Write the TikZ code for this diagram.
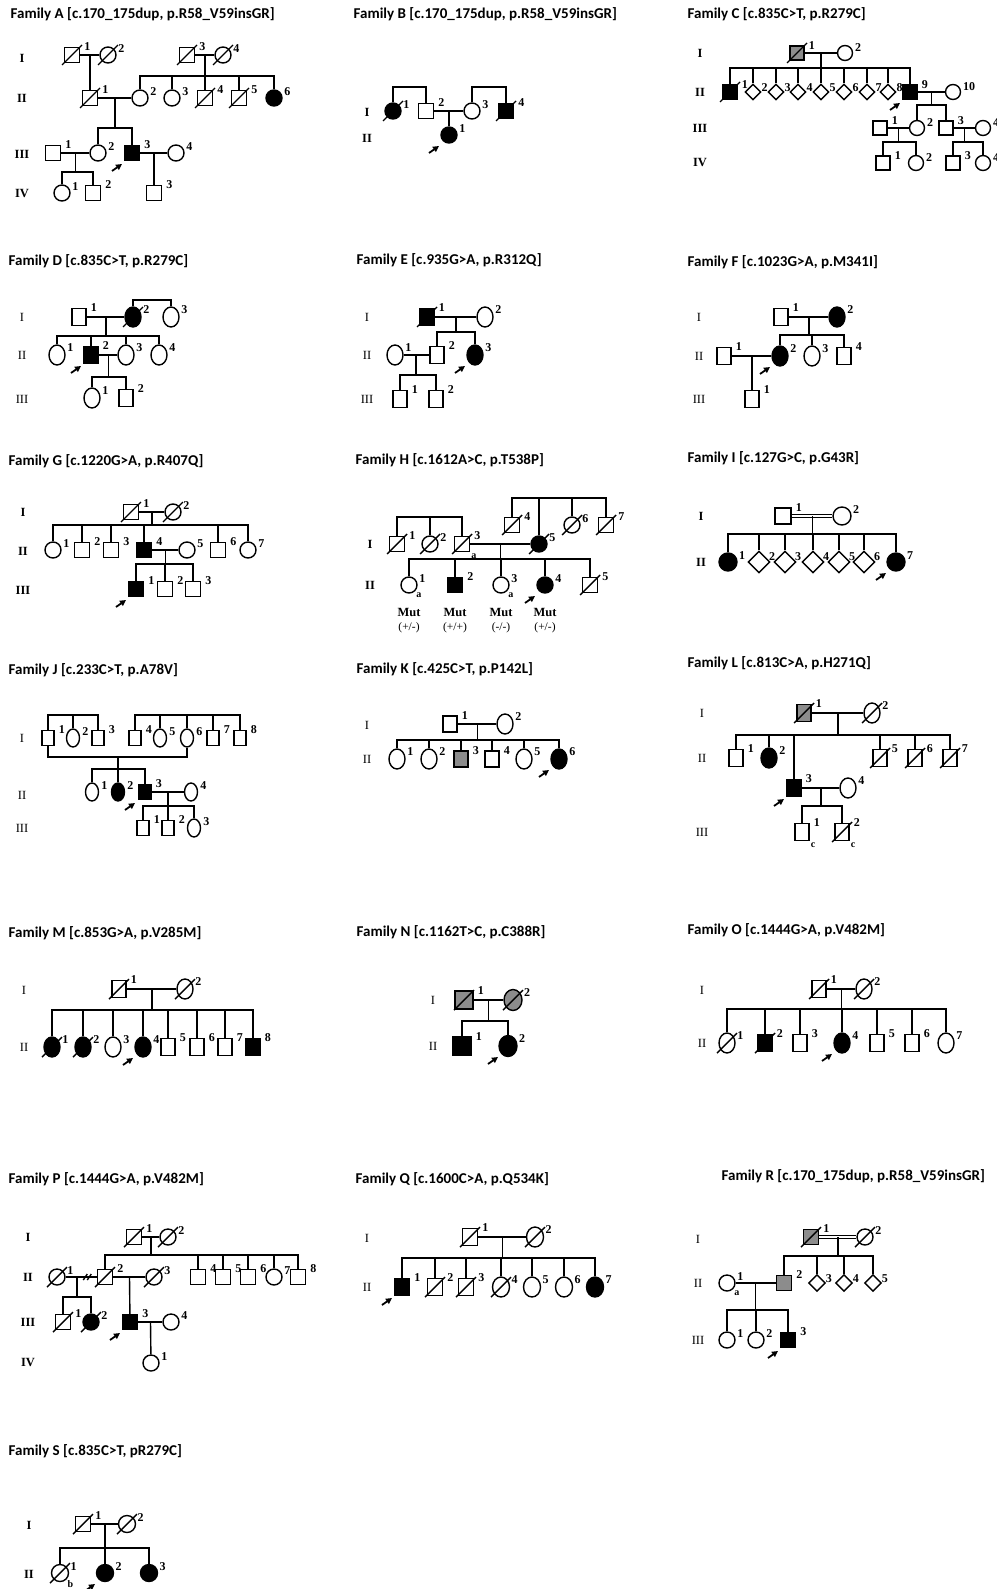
\documentclass[tikz,border=0pt]{standalone}
\usepackage{fontspec}
\setmainfont{Liberation Serif}
\newfontfamily\calfont{Carlito}
\usetikzlibrary{arrows.meta,positioning,calc,shapes.geometric}
\definecolor{carrier}{HTML}{8C8C8C}

\tikzset{
  ind/.style={draw, inner sep=0pt},
  male/.style={ind, rectangle, minimum width=15, minimum height=15},
  female/.style={ind, ellipse, minimum width=16, minimum height=16},
  unk/.style={ind, diamond, aspect=1, minimum width=16, minimum height=16},
  aff/.style={fill=black},
  car/.style={fill=carrier},
  dec/.style={append after command={(\tikzlastnode.center) ++(-10,10) edge ++(20,-20)}},
  pb/.style={append after command={(\tikzlastnode.center) ++(-20,18) edge[-{Triangle[length=6pt,width=6pt]}, line width=1.8pt] ++(10,-7)}},
  nr/.style={label={[num]north east:#1}},
  sub/.style={label={[subl]south east:#1}},
  num/.style={font=\bfseries\fontsize{12}{12}\selectfont, inner sep=0.5pt, anchor=west, xshift=3pt},
  subl/.style={font=\bfseries\fontsize{10}{10}\selectfont, inner sep=0.5pt, anchor=north west},
  ttl/.style={font=\calfont\bfseries\fontsize{15}{17}\selectfont, anchor=west, inner sep=0pt},
  gen/.style={font=\bfseries\fontsize{12.5}{12.5}\selectfont, inner sep=0pt},
  genr/.style={font=\fontsize{12.5}{12.5}\selectfont, inner sep=0pt},
  mutl/.style={font=\bfseries\fontsize{12.5}{12.5}\selectfont, inner sep=0pt},
  gtl/.style={font=\fontsize{11.5}{11.5}\selectfont, inner sep=0pt},
  symsize/.style n args={4}{male/.append style={minimum width=#1, minimum height=#2},
    female/.append style={minimum width=#3, minimum height=#4}},
  unksize/.style={unk/.append style={minimum width=#1, minimum height=#1}},
}

\begin{document}
\begin{tikzpicture}[x=1pt, y=-1pt, line width=1.4pt]
  \useasboundingbox (0,0) rectangle (996,1589);

  % Family A
  \node[ttl] (Attl) at (10,14) {Family A [c.170\_175dup, p.R58\_V59insGR]};
  \node[gen] (Ag1) at (22,58) {I};
  \node[gen] (Ag2) at (22,98) {II};
  \node[gen] (Ag3) at (22,154) {III};
  \node[gen] (Ag4) at (22,194) {IV};
  \node[male,dec,nr=1] (A11) at (72,55) {};
  \node[female,dec,nr=2] (A12) at (108,55) {};
  \node[male,dec,nr=3] (A13) at (187,55) {};
  \node[female,dec,nr=4] (A14) at (223,55) {};
  \node[male,dec,nr=1] (A21) at (90,98) {};
  \node[female,nr=2] (A22) at (140,98) {};
  \node[female,nr=3] (A23) at (172,98) {};
  \node[male,dec,nr=4] (A24) at (205,98) {};
  \node[male,dec,nr=5] (A25) at (239,98) {};
  \node[female,aff,nr=6] (A26) at (274,98) {};
  \node[male,nr=1] (A31) at (53,153) {};
  \node[female,nr=2] (A32) at (98,153) {};
  \node[male,aff,pb,nr=3] (A33) at (132,153) {};
  \node[female,nr=4] (A34) at (176,153) {};
  \node[female,nr=1] (A41) at (62,193) {};
  \node[male,nr=2] (A42) at (93,193) {};
  \node[male,nr=3] (A43) at (154,193) {};
  \draw (A11) -- (A12);
  \draw (A13) -- (A14);
  \coordinate (Am1) at ($(A11)!.5!(A12)$);
  \draw (Am1) -- (A21);
  \coordinate (Am2) at ($(A13)!.5!(A14)$);
  \draw (Am2) -- ++(0,21) coordinate (As2);
  \draw (A22) |- (As2) -| (A26);
  \foreach \k in {3,4,5} \draw (A2\k) -- (A2\k |- As2);
  \draw (A21) -- (A22);
  \coordinate (Am3) at ($(A21)!.5!(A22)$);
  \draw (Am3) -- ++(0,30) coordinate (As3);
  \draw (A32) |- (As3) -| (A33);
  \draw (A31) -- (A32);
  \coordinate (Am4) at ($(A31)!.5!(A32)$);
  \draw (Am4) -- ++(0,19) coordinate (As4);
  \draw (A41) |- (As4) -| (A42);
  \draw (A33) -- (A34);
  \coordinate (Am5) at ($(A33)!.5!(A34)$);
  \draw (Am5) -- (A43);

  % Family B
  \node[ttl] (Bttl) at (353,14) {Family B [c.170\_175dup, p.R58\_V59insGR]};
  \node[gen] (Bg1) at (367,112) {I};
  \node[gen] (Bg2) at (367,138) {II};
  \node[female,aff,dec,nr=1] (B11) at (393,111) {};
  \node[male,nr=2] (B12) at (426,111) {};
  \node[female,nr=3] (B13) at (472,111) {};
  \node[male,aff,dec,nr=4] (B14) at (506,111) {};
  \node[female,aff,pb,nr=1] (B21) at (449,135) {};
  \coordinate (Bb1) at (393,87);
  \draw (B11) |- (Bb1) -| (B12);
  \coordinate (Bb2) at (472,87);
  \draw (B13) |- (Bb2) -| (B14);
  \draw (B12) -- (B13);
  \coordinate (Bm1) at ($(B12)!.5!(B13)$);
  \draw (Bm1) -- (B21);

  % Family C
  \node[ttl] (Cttl) at (687,14) {Family C [c.835C>T, p.R279C]};
  \node[gen] (Cg1) at (700,53) {I};
  \node[gen] (Cg2) at (700,92) {II};
  \node[gen] (Cg3) at (700,128) {III};
  \node[gen] (Cg4) at (700,163) {IV};
  \begin{scope}[symsize={14}{14}{15}{15}]
  \node[male,car,dec,nr=1] (C11) at (797,53) {};
  \node[female,nr=2] (C12) at (845,53) {};
  \node[male,aff,dec,nr=1] (C21) at (730,92) {};
  \node[unk,nr=2] (C22) at (753,92) {};
  \node[unk,nr=3] (C23) at (776,92) {};
  \node[unk,nr=4] (C24) at (798,92) {};
  \node[unk,nr=5] (C25) at (821,92) {};
  \node[unk,nr=6] (C26) at (844,92) {};
  \node[unk,nr=7] (C27) at (867,92) {};
  \node[unk,nr=8] (C28) at (888,92) {};
  \node[male,aff,pb,nr=9] (C29) at (910,92) {};
  \node[female,nr=10] (C210) at (953,92) {};
  \node[male,nr=1] (C31) at (880,128) {};
  \node[female,nr=2] (C32) at (917,128) {};
  \node[male,nr=3] (C33) at (946,128) {};
  \node[female,nr=4] (C34) at (983,128) {};
  \node[male,nr=1] (C41) at (883,163) {};
  \node[female,nr=2] (C42) at (916,163) {};
  \node[male,nr=3] (C43) at (953,163) {};
  \node[female,nr=4] (C44) at (983,163) {};
  \end{scope}
  \draw (C11) -- (C12);
  \coordinate (Cm1) at ($(C11)!.5!(C12)$);
  \draw (Cm1) -- ++(0,15) coordinate (Cs1);
  \draw (C21) |- (Cs1) -| (C29);
  \foreach \k in {2,...,8} \draw (C2\k) -- (C2\k |- Cs1);
  \draw (C29) -- (C210);
  \coordinate (Cm2) at ($(C29)!.5!(C210)$);
  \draw (Cm2) -- ++(0,13) coordinate (Cs2);
  \draw (C32) |- (Cs2) -| (C33);
  \draw (C31) -- (C32);
  \coordinate (Cm3) at ($(C31)!.5!(C32)$);
  \draw (Cm3) -- ++(0,14) coordinate (Cs3);
  \draw (C41) |- (Cs3) -| (C42);
  \draw (C33) -- (C34);
  \coordinate (Cm4) at ($(C33)!.5!(C34)$);
  \draw (Cm4) -- ++(0,14) coordinate (Cs4);
  \draw (C43) |- (Cs4) -| (C44);

  % Family D
  \node[ttl] (Dttl) at (8,261) {Family D [c.835C>T, p.R279C]};
  \node[genr] (Dg1) at (22,317) {I};
  \node[genr] (Dg2) at (22,355) {II};
  \node[genr] (Dg3) at (22,399) {III};
  \begin{scope}[symsize={14}{17}{16}{20}]
  \node[male,nr=1] (D11) at (79,317) {};
  \node[female,aff,dec,nr=2] (D12) at (133,317) {};
  \node[female,nr=3] (D13) at (171,317) {};
  \node[female,nr=1] (D21) at (57,355) {};
  \node[male,aff,pb,nr=2] (D22) at (91,355) {};
  \node[female,nr=3] (D23) at (126,355) {};
  \node[female,nr=4] (D24) at (159,355) {};
  \node[female,nr=1] (D31) at (92,398) {};
  \node[male,nr=2] (D32) at (126,398) {};
  \end{scope}
  \coordinate (Db1) at (133,300);
  \draw (D12) |- (Db1) -| (D13);
  \draw (D11) -- (D12);
  \coordinate (Dm1) at ($(D11)!.5!(D12)$);
  \draw (Dm1) -- ++(0,19) coordinate (Ds1);
  \draw (D21) |- (Ds1) -| (D24);
  \foreach \k in {2,3} \draw (D2\k) -- (D2\k |- Ds1);
  \draw (D22) -- (D23);
  \coordinate (Dm2) at ($(D22)!.5!(D23)$);
  \draw (Dm2) -- ++(0,22) coordinate (Ds2);
  \draw (D31) |- (Ds2) -| (D32);

  % Family E
  \node[ttl] (Ettl) at (356,260) {Family E [c.935G>A, p.R312Q]};
  \node[genr] (Eg1) at (367,317) {I};
  \node[genr] (Eg2) at (367,355) {II};
  \node[genr] (Eg3) at (367,399) {III};
  \begin{scope}[symsize={14}{17}{16}{20}]
  \node[male,aff,dec,nr=1] (E11) at (427,317) {};
  \node[female,nr=2] (E12) at (485,317) {};
  \node[female,nr=1] (E21) at (395,355) {};
  \node[male,nr=2] (E22) at (437,355) {};
  \node[female,aff,pb,nr=3] (E23) at (475,355) {};
  \node[male,nr=1] (E31) at (400,399) {};
  \node[male,nr=2] (E32) at (436,399) {};
  \end{scope}
  \draw (E11) -- (E12);
  \coordinate (Em1) at ($(E11)!.5!(E12)$);
  \draw (Em1) -- ++(0,15) coordinate (Es1);
  \draw (E22) |- (Es1) -| (E23);
  \draw (E21) -- (E22);
  \coordinate (Em2) at ($(E21)!.5!(E22)$);
  \draw (Em2) -- ++(0,20) coordinate (Es2);
  \draw (E31) |- (Es2) -| (E32);

  % Family F
  \node[ttl] (Fttl) at (687,262) {Family F [c.1023G>A, p.M341I]};
  \node[genr] (Fg1) at (699,317) {I};
  \node[genr] (Fg2) at (699,356) {II};
  \node[genr] (Fg3) at (699,399) {III};
  \begin{scope}[symsize={14}{17}{16}{20}]
  \node[male,nr=1] (F11) at (781,317) {};
  \node[female,aff,nr=2] (F12) at (837,317) {};
  \node[male,nr=1] (F21) at (724,356) {};
  \node[female,aff,pb,nr=2] (F22) at (780,356) {};
  \node[female,nr=3] (F23) at (812,356) {};
  \node[male,nr=4] (F24) at (844,356) {};
  \node[male,nr=1] (F31) at (752,399) {};
  \end{scope}
  \draw (F11) -- (F12);
  \coordinate (Fm1) at ($(F11)!.5!(F12)$);
  \draw (Fm1) -- ++(0,18) coordinate (Fs1);
  \draw (F22) |- (Fs1) -| (F24);
  \draw (F23) -- (F23 |- Fs1);
  \draw (F21) -- (F22);
  \coordinate (Fm2) at ($(F21)!.5!(F22)$);
  \draw (Fm2) -- (F31);

  % Family G
  \node[ttl] (Gttl) at (8,461) {Family G [c.1220G>A, p.R407Q]};
  \node[gen] (Gg1) at (23,512) {I};
  \node[gen] (Gg2) at (23,551) {II};
  \node[gen] (Gg3) at (23,590) {III};
  \node[male,dec,nr=1] (G11) at (131,512) {};
  \node[female,dec,nr=2] (G12) at (173,512) {};
  \node[female,nr=1] (G21) at (53,550) {};
  \node[male,nr=2] (G22) at (82,550) {};
  \node[male,nr=3] (G23) at (111,550) {};
  \node[male,aff,nr=4] (G24) at (144,550) {};
  \node[female,nr=5] (G25) at (187,550) {};
  \node[male,nr=6] (G26) at (218,550) {};
  \node[female,nr=7] (G27) at (248,550) {};
  \node[male,aff,pb,nr=1] (G31) at (136,589) {};
  \node[male,nr=2] (G32) at (165,589) {};
  \node[male,nr=3] (G33) at (193,589) {};
  \draw (G11) -- (G12);
  \coordinate (Gm1) at ($(G11)!.5!(G12)$);
  \draw (Gm1) -- ++(0,13) coordinate (Gs1);
  \draw (G21) |- (Gs1) -| (G27);
  \foreach \k in {2,3,4,6} \draw (G2\k) -- (G2\k |- Gs1);
  \draw (G24) -- (G25);
  \coordinate (Gm2) at ($(G24)!.5!(G25)$);
  \draw (Gm2) -- ++(0,14) coordinate (Gs2);
  \draw (G31) |- (Gs2) -| (G33);
  \draw (G32) -- (G32 |- Gs2);

  % Family H
  \node[ttl] (Httl) at (355,460) {Family H [c.1612A>C, p.T538P]};
  \node[gen] (Hg1) at (370,544) {I};
  \node[gen] (Hg2) at (370,585) {II};
  \node[male,dec,nr=1] (H11) at (397,544) {};
  \node[female,dec,nr=2] (H12) at (430,544) {};
  \node[male,dec,nr=3,sub=a] (H13) at (462,544) {};
  \node[male,dec,nr=4] (H14) at (512,525) {};
  \node[female,aff,dec,nr=5] (H15) at (539,544) {};
  \node[female,dec,nr=6] (H16) at (572,525) {};
  \node[male,dec,nr=7] (H17) at (606,525) {};
  \node[female,nr=1,sub=a] (H21) at (409,585) {};
  \node[male,aff,nr=2] (H22) at (455,585) {};
  \node[female,nr=3,sub=a] (H23) at (501,585) {};
  \node[female,aff,pb,nr=4] (H24) at (545,585) {};
  \node[male,dec,nr=5] (H25) at (590,585) {};
  \coordinate (Hb1) at (397,517);
  \draw (H11) |- (Hb1) -| (H13);
  \draw (H12) -- (H12 |- Hb1);
  \coordinate (Hb2) at (512,498);
  \draw (H14) |- (Hb2) -| (H17);
  \foreach \k in {5,6} \draw (H1\k) -- (H1\k |- Hb2);
  \draw (H13) -- (H15);
  \coordinate (Hm1) at ($(H13)!.5!(H15)$);
  \draw (Hm1) -- ++(0,15) coordinate (Hs1);
  \draw (H21) |- (Hs1) -| (H25);
  \foreach \k in {2,3,4} \draw (H2\k) -- (H2\k |- Hs1);
  \node[mutl] (Hmut1) at (409,612) {Mut};
  \node[mutl] (Hmut2) at (455,612) {Mut};
  \node[mutl] (Hmut3) at (501,612) {Mut};
  \node[mutl] (Hmut4) at (545,612) {Mut};
  \node[gtl] (Hgt1) at (409,628) {(+/-)};
  \node[gtl] (Hgt2) at (455,628) {(+/+)};
  \node[gtl] (Hgt3) at (501,628) {(-/-)};
  \node[gtl] (Hgt4) at (545,628) {(+/-)};

  % Family I
  \node[ttl] (Ittl) at (687,458) {Family I [c.127G>C, p.G43R]};
  \node[gen] (Ig1) at (701,516) {I};
  \node[gen] (Ig2) at (701,562) {II};
  \begin{scope}[symsize={16}{16}{18}{18}, unksize=22]
  \node[male,nr=1] (I11) at (783,516) {};
  \node[female,nr=2] (I12) at (842,516) {};
  \node[female,aff,nr=1] (I21) at (728,562) {};
  \node[unk,nr=2] (I22) at (759,562) {};
  \node[unk,nr=3] (I23) at (785,562) {};
  \node[unk,nr=4] (I24) at (813,562) {};
  \node[unk,nr=5] (I25) at (839,562) {};
  \node[unk,nr=6] (I26) at (864,562) {};
  \node[female,aff,pb,nr=7] (I27) at (896,562) {};
  \end{scope}
  \draw[double, double distance=2pt] (I11) -- (I12);
  \coordinate (Im1) at ($(I11)!.5!(I12)$);
  \draw (Im1) -- ++(0,18) coordinate (Is1);
  \draw (I21) |- (Is1) -| (I27);
  \foreach \k in {2,...,6} \draw (I2\k) -- (I2\k |- Is1);

  % Family J
  \node[ttl] (Jttl) at (8,670) {Family J [c.233C>T, p.A78V]};
  \node[genr] (Jg1) at (22,738) {I};
  \node[genr] (Jg2) at (22,795) {II};
  \node[genr] (Jg3) at (22,828) {III};
  \begin{scope}[symsize={12}{15}{13}{18}]
  \node[male,nr=1] (J11) at (48,738) {};
  \node[female,nr=2] (J12) at (73,738) {};
  \node[male,nr=3] (J13) at (98,738) {};
  \node[male,nr=4] (J14) at (135,738) {};
  \node[female,nr=5] (J15) at (160,738) {};
  \node[female,nr=6] (J16) at (187,738) {};
  \node[male,nr=7] (J17) at (213,738) {};
  \node[male,nr=8] (J18) at (240,738) {};
  \node[female,nr=1] (J21) at (92,792) {};
  \node[female,aff,nr=2] (J22) at (118,792) {};
  \node[male,aff,pb,nr=3] (J23) at (145,792) {};
  \node[female,nr=4] (J24) at (191,792) {};
  \node[male,nr=1] (J31) at (143,828) {};
  \node[male,nr=2] (J32) at (168,828) {};
  \node[female,nr=3] (J33) at (194,828) {};
  \end{scope}
  \coordinate (Jb1) at (48,715);
  \draw (J11) |- (Jb1) -| (J13);
  \draw (J12) -- (J12 |- Jb1);
  \coordinate (Jb2) at (135,715);
  \draw (J14) |- (Jb2) -| (J18);
  \foreach \k in {5,6,7} \draw (J1\k) -- (J1\k |- Jb2);
  \coordinate (Ju) at (48,757);
  \draw (J11) |- (Ju) -| (J16);
  \coordinate (Jm1) at (118,757);
  \draw (Jm1) -- ++(0,12) coordinate (Js1);
  \draw (J21) |- (Js1) -| (J23);
  \draw (J22) -- (J22 |- Js1);
  \draw (J23) -- (J24);
  \coordinate (Jm2) at ($(J23)!.5!(J24)$);
  \draw (Jm2) -- ++(0,14) coordinate (Js2);
  \draw (J31) |- (Js2) -| (J33);
  \draw (J32) -- (J32 |- Js2);

  % Family K
  \node[ttl] (Kttl) at (356,669) {Family K [c.425C>T, p.P142L]};
  \node[genr] (Kg1) at (367,725) {I};
  \node[genr] (Kg2) at (367,759) {II};
  \begin{scope}[symsize={14}{16}{16}{20}]
  \node[male,nr=1] (K11) at (450,724) {};
  \node[female,nr=2] (K12) at (505,724) {};
  \node[female,nr=1] (K21) at (397,759) {};
  \node[female,nr=2] (K22) at (429,759) {};
  \node[male,car,nr=3] (K23) at (461,759) {};
  \node[male,nr=4] (K24) at (492,759) {};
  \node[female,nr=5] (K25) at (524,759) {};
  \node[female,aff,pb,nr=6] (K26) at (559,759) {};
  \end{scope}
  \draw (K11) -- (K12);
  \coordinate (Km1) at ($(K11)!.5!(K12)$);
  \draw (Km1) -- ++(0,16) coordinate (Ks1);
  \draw (K21) |- (Ks1) -| (K26);
  \foreach \k in {2,...,5} \draw (K2\k) -- (K2\k |- Ks1);

  % Family L
  \node[ttl] (Lttl) at (687,663) {Family L [c.813C>A, p.H271Q]};
  \node[genr] (Lg1) at (702,713) {I};
  \node[genr] (Lg2) at (702,758) {II};
  \node[genr] (Lg3) at (702,832) {III};
  \begin{scope}[symsize={14}{17}{16}{20}]
  \node[male,car,dec,nr=1] (L11) at (804,713) {};
  \node[female,dec,nr=2] (L12) at (872,713) {};
  \node[male,nr=1] (L21) at (736,758) {};
  \node[female,aff,nr=2] (L22) at (769,758) {};
  \node[male,aff,pb,nr=3] (L23) at (794,788) {};
  \node[female,nr=4] (L24) at (848,788) {};
  \node[male,dec,nr=5] (L25) at (880,758) {};
  \node[male,dec,nr=6] (L26) at (915,758) {};
  \node[male,dec,nr=7] (L27) at (950,758) {};
  \node[male,nr=1,sub=c] (L31) at (802,832) {};
  \node[male,dec,nr=2,sub=c] (L32) at (842,832) {};
  \end{scope}
  \draw (L11) -- (L12);
  \coordinate (Lm1) at ($(L11)!.5!(L12)$);
  \draw (Lm1) -- ++(0,22) coordinate (Ls1);
  \draw (L21) |- (Ls1) -| (L27);
  \foreach \k in {2,3,5,6} \draw (L2\k) -- (L2\k |- Ls1);
  \draw (L23) -- (L24);
  \coordinate (Lm2) at ($(L23)!.5!(L24)$);
  \draw (Lm2) -- ++(0,18) coordinate (Ls2);
  \draw (L31) |- (Ls2) -| (L32);

  % Family M
  \node[ttl] (Mttl) at (8,933) {Family M [c.853G>A, p.V285M]};
  \node[genr] (Mg1) at (24,990) {I};
  \node[genr] (Mg2) at (24,1047) {II};
  \begin{scope}[symsize={14}{17}{16}{20}]
  \node[male,dec,nr=1] (M11) at (119,989) {};
  \node[female,dec,nr=2] (M12) at (185,989) {};
  \node[female,aff,dec,nr=1] (M21) at (52,1047) {};
  \node[female,aff,dec,nr=2] (M22) at (83,1047) {};
  \node[female,nr=3] (M23) at (113,1047) {};
  \node[female,aff,pb,nr=4] (M24) at (143,1047) {};
  \node[male,nr=5] (M25) at (168,1047) {};
  \node[male,nr=6] (M26) at (197,1047) {};
  \node[male,nr=7] (M27) at (225,1047) {};
  \node[male,aff,nr=8] (M28) at (253,1047) {};
  \end{scope}
  \draw (M11) -- (M12);
  \coordinate (Mm1) at ($(M11)!.5!(M12)$);
  \draw (Mm1) -- ++(0,21) coordinate (Ms1);
  \draw (M21) |- (Ms1) -| (M28);
  \foreach \k in {2,...,7} \draw (M2\k) -- (M2\k |- Ms1);

  % Family N
  \node[ttl] (Nttl) at (356,932) {Family N [c.1162T>C, p.C388R]};
  \node[genr] (Ng1) at (433,1000) {I};
  \node[genr] (Ng2) at (433,1046) {II};
  \begin{scope}[symsize={18}{18}{18}{21}]
  \node[male,car,dec,nr=1] (N11) at (464,1000) {};
  \node[female,car,dec,nr=2] (N12) at (513,1000) {};
  \node[male,aff,nr=1] (N21) at (462,1046) {};
  \node[female,aff,pb,nr=2] (N22) at (508,1046) {};
  \end{scope}
  \draw (N11) -- (N12);
  \coordinate (Nm1) at ($(N11)!.5!(N12)$);
  \draw (Nm1) -- ++(0,21) coordinate (Ns1);
  \draw (N21) |- (Ns1) -| (N22);

  % Family O
  \node[ttl] (Ottl) at (687,930) {Family O [c.1444G>A, p.V482M]};
  \node[genr] (Og1) at (702,990) {I};
  \node[genr] (Og2) at (702,1043) {II};
  \begin{scope}[symsize={14}{17}{16}{20}]
  \node[male,dec,nr=1] (O11) at (819,989) {};
  \node[female,dec,nr=2] (O12) at (864,989) {};
  \node[female,dec,nr=1] (O21) at (727,1043) {};
  \node[male,aff,dec,nr=2] (O22) at (765,1043) {};
  \node[male,nr=3] (O23) at (800,1043) {};
  \node[female,aff,pb,nr=4] (O24) at (842,1043) {};
  \node[male,nr=5] (O25) at (877,1043) {};
  \node[male,nr=6] (O26) at (912,1043) {};
  \node[female,nr=7] (O27) at (946,1043) {};
  \end{scope}
  \draw (O11) -- (O12);
  \coordinate (Om1) at ($(O11)!.5!(O12)$);
  \draw (Om1) -- ++(0,20) coordinate (Os1);
  \draw (O21) |- (Os1) -| (O27);
  \foreach \k in {2,...,6} \draw (O2\k) -- (O2\k |- Os1);

  % Family P
  \node[ttl] (Pttl) at (8,1179) {Family P [c.1444G>A, p.V482M]};
  \node[gen] (Pg1) at (28,1237) {I};
  \node[gen] (Pg2) at (28,1277) {II};
  \node[gen] (Pg3) at (28,1322) {III};
  \node[gen] (Pg4) at (28,1362) {IV};
  \node[male,dec,nr=1] (P11) at (134,1237) {};
  \node[female,dec,nr=2] (P12) at (168,1237) {};
  \node[female,dec,nr=1] (P21) at (57,1277) {};
  \node[male,dec,nr=2] (P22) at (105,1277) {};
  \node[female,dec,nr=3] (P23) at (154,1277) {};
  \node[male,nr=4] (P24) at (198,1277) {};
  \node[male,nr=5] (P25) at (223,1277) {};
  \node[male,nr=6] (P26) at (248,1277) {};
  \node[female,nr=7] (P27) at (274,1277) {};
  \node[male,nr=8] (P28) at (298,1277) {};
  \node[male,dec,nr=1] (P31) at (63,1322) {};
  \node[female,aff,dec,nr=2] (P32) at (91,1322) {};
  \node[male,aff,pb,nr=3] (P33) at (130,1322) {};
  \node[female,nr=4] (P34) at (171,1322) {};
  \node[female,nr=1] (P41) at (151,1363) {};
  \draw (P11) -- (P12);
  \coordinate (Pm1) at ($(P11)!.5!(P12)$);
  \draw (Pm1) -- ++(0,18) coordinate (Ps1);
  \draw (P22) |- (Ps1) -| (P28);
  \foreach \k in {4,...,7} \draw (P2\k) -- (P2\k |- Ps1);
  \draw (P21) -- (P22);
  \coordinate (Pdv) at ($(P21)!.62!(P22)$);
  \draw (Pdv) ++(-3.5,3) -- ++(4,-6);
  \draw (Pdv) ++(0.5,3) -- ++(4,-6);
  \coordinate (Pm2) at ($(P21)!.42!(P22)$);
  \draw (Pm2) -- ++(0,20) coordinate (Ps2);
  \draw (P31) |- (Ps2) -| (P32);
  \draw (P22) -- (P23);
  \coordinate (Pm3) at ($(P22)!.5!(P23)$);
  \draw (Pm3) -- (P33);
  \draw (P33) -- (P34);
  \coordinate (Pm4) at ($(P33)!.5!(P34)$);
  \draw (Pm4) -- (P41);

  % Family Q
  \node[ttl] (Qttl) at (355,1179) {Family Q [c.1600C>A, p.Q534K]};
  \node[genr] (Qg1) at (367,1238) {I};
  \node[genr] (Qg2) at (367,1287) {II};
  \begin{scope}[symsize={15}{17}{17}{20}]
  \node[male,dec,nr=1] (Q11) at (470,1237) {};
  \node[female,dec,nr=2] (Q12) at (535,1237) {};
  \node[male,aff,pb,nr=1] (Q21) at (402,1287) {};
  \node[male,dec,nr=2] (Q22) at (435,1287) {};
  \node[male,dec,nr=3] (Q23) at (466,1287) {};
  \node[female,dec,nr=4] (Q24) at (501,1287) {};
  \node[female,nr=5] (Q25) at (532,1287) {};
  \node[female,nr=6] (Q26) at (564,1287) {};
  \node[female,aff,nr=7] (Q27) at (595,1287) {};
  \end{scope}
  \draw (Q11) -- (Q12);
  \coordinate (Qm1) at ($(Q11)!.5!(Q12)$);
  \draw (Qm1) -- ++(0,21) coordinate (Qs1);
  \draw (Q21) |- (Qs1) -| (Q27);
  \foreach \k in {2,...,6} \draw (Q2\k) -- (Q2\k |- Qs1);

  % Family R
  \node[ttl] (Rttl) at (721,1176) {Family R [c.170\_175dup, p.R58\_V59insGR]};
  \node[genr] (Rg1) at (698,1239) {I};
  \node[genr] (Rg2) at (698,1283) {II};
  \node[genr] (Rg3) at (698,1340) {III};
  \begin{scope}[symsize={15}{15}{16}{16}, unksize=17]
  \node[male,car,dec,nr=1] (R11) at (811,1237) {};
  \node[female,dec,nr=2] (R12) at (865,1237) {};
  \node[female,nr=1,sub=a] (R21) at (727,1283) {};
  \node[male,car,nr=2] (R22) at (784,1283) {};
  \node[unk,nr=3] (R23) at (817,1283) {};
  \node[unk,nr=4] (R24) at (844,1283) {};
  \node[unk,nr=5] (R25) at (873,1283) {};
  \node[female,nr=1] (R31) at (727,1340) {};
  \node[female,nr=2] (R32) at (756,1340) {};
  \node[male,aff,pb,nr=3] (R33) at (788,1340) {};
  \end{scope}
  \draw[double, double distance=2pt] (R11) -- (R12);
  \coordinate (Rm1) at ($(R11)!.5!(R12)$);
  \draw (Rm1) -- ++(0,19) coordinate (Rs1);
  \draw (R22) |- (Rs1) -| (R25);
  \foreach \k in {3,4} \draw (R2\k) -- (R2\k |- Rs1);
  \draw (R21) -- (R22);
  \coordinate (Rm2) at ($(R21)!.5!(R22)$);
  \draw (Rm2) -- ++(0,27) coordinate (Rs2);
  \draw (R31) |- (Rs2) -| (R33);
  \draw (R32) -- (R32 |- Rs2);

  % Family S
  \node[ttl] (Sttl) at (8,1451) {Family S [c.835C>T, pR279C]};
  \node[gen] (Sg1) at (29,1525) {I};
  \node[gen] (Sg2) at (29,1574) {II};
  \begin{scope}[symsize={15}{15}{17}{17}]
  \node[male,dec,nr=1] (S11) at (83,1524) {};
  \node[female,dec,nr=2] (S12) at (127,1524) {};
  \node[female,dec,nr=1,sub=b] (S21) at (60,1573) {};
  \node[female,aff,pb,nr=2] (S22) at (105,1573) {};
  \node[female,aff,nr=3] (S23) at (149,1573) {};
  \end{scope}
  \draw (S11) -- (S12);
  \coordinate (Sm1) at ($(S11)!.5!(S12)$);
  \draw (Sm1) -- ++(0,24) coordinate (Ss1);
  \draw (S21) |- (Ss1) -| (S23);
  \draw (S22) -- (S22 |- Ss1);
\end{tikzpicture}
\end{document}
